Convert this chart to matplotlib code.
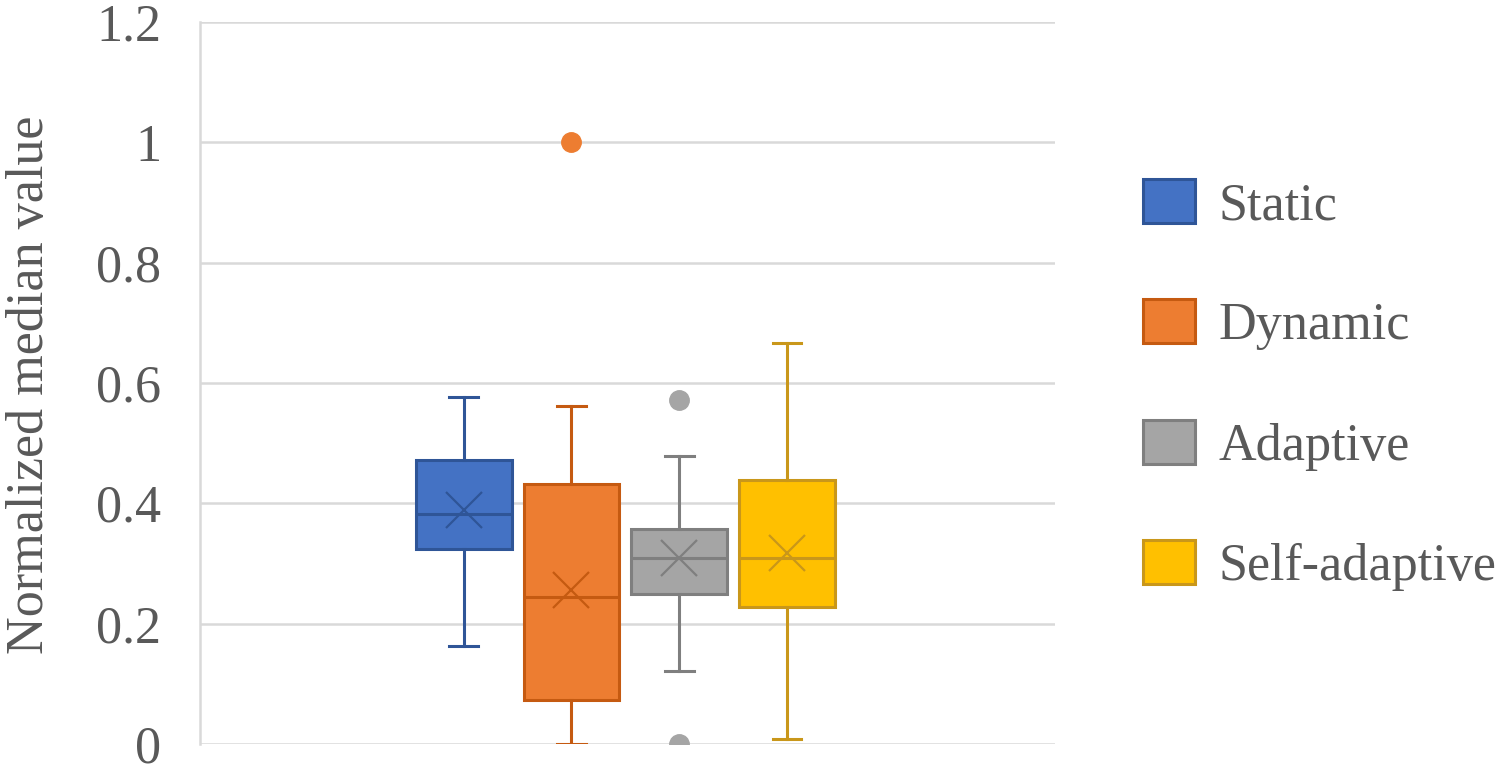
import matplotlib
matplotlib.use("Agg")
import matplotlib.pyplot as plt
from matplotlib.patches import Patch

categories = ["Static", "Dynamic", "Adaptive", "Self-adaptive"]
q1 = [0.324, 0.073, 0.250, 0.228]
medians = [0.383, 0.245, 0.309, 0.309]
q3 = [0.472, 0.432, 0.357, 0.439]
whislo = [0.163, 0.0, 0.122, 0.008]
whishi = [0.577, 0.561, 0.479, 0.666]
means = [0.389, 0.256, 0.309, 0.317]
outliers = [[], [1.0], [0.571, 0.0], []]
yticks = [0, 0.2, 0.4, 0.6, 0.8, 1.0, 1.2]
ytick_labels = ["0", "0.2", "0.4", "0.6", "0.8", "1", "1.2"]

fills = ["#4472C4", "#ED7D31", "#A5A5A5", "#FFC000"]
edges = ["#2F5597", "#C55A11", "#7F7F7F", "#C9971A"]

plt.rcParams['font.family'] = ['Liberation Serif', 'DejaVu Serif']
text_color = "#595959"
fs = 37.5

fig = plt.figure(figsize=(15, 7.74), dpi=100)
ax = fig.add_axes([200/1500, 1-744/774, 855/1500, (744-22)/774])
ax.set_xlim(0, 1)
ax.set_ylim(0, 1.2)

spacing = 0.126
width = 0.112
center = 0.4975
for i, cat in enumerate(categories):
    pos = center + (i - 1.5) * spacing
    stats = [dict(label=cat, q1=q1[i], med=medians[i], q3=q3[i], whislo=whislo[i],
                  whishi=whishi[i], mean=means[i], fliers=outliers[i])]
    ax.bxp(stats, positions=[pos], widths=[width], capwidths=[width*0.3],
           showmeans=True, patch_artist=True, manage_ticks=False,
           boxprops=dict(facecolor=fills[i], edgecolor=edges[i], linewidth=2.2),
           medianprops=dict(color=edges[i], linewidth=2.2),
           whiskerprops=dict(color=edges[i], linewidth=2.2),
           capprops=dict(color=edges[i], linewidth=2.2),
           meanprops=dict(marker='x', markersize=26, markeredgecolor=edges[i],
                          markeredgewidth=1.6, markerfacecolor='none'),
           flierprops=dict(marker='o', markersize=14, markerfacecolor=fills[i],
                           markeredgecolor=fills[i], linestyle='none'),
           zorder=3)

ax.set_yticks(yticks)
ax.set_yticklabels(ytick_labels, fontsize=fs, color=text_color)
ax.set_xticks([])
ax.tick_params(axis='y', length=0, pad=28)
ax.yaxis.grid(True, color="#D9D9D9", linewidth=1.8, zorder=0)
ax.set_axisbelow(True)
for s in ["top", "right", "bottom"]:
    ax.spines[s].set_visible(False)
ax.spines["left"].set_color("#D9D9D9")
ax.spines["left"].set_linewidth(1.8)

fig.text(30/1500, 1-385/774, "Normalized median value", rotation=90, fontsize=fs,
         color=text_color, ha='center', va='center')

handles = [Patch(facecolor=fills[i], edgecolor=edges[i], linewidth=2.2) for i in range(4)]
fig.legend(handles, categories, loc='center left', bbox_to_anchor=(1143/1500, 1-385/774),
           bbox_transform=fig.transFigure, frameon=False, fontsize=fs,
           handlelength=1.0, handleheight=0.92, handletextpad=0.45,
           labelspacing=1.33, borderpad=0, borderaxespad=0, labelcolor=text_color)

fig.savefig("out.png", dpi=100)
